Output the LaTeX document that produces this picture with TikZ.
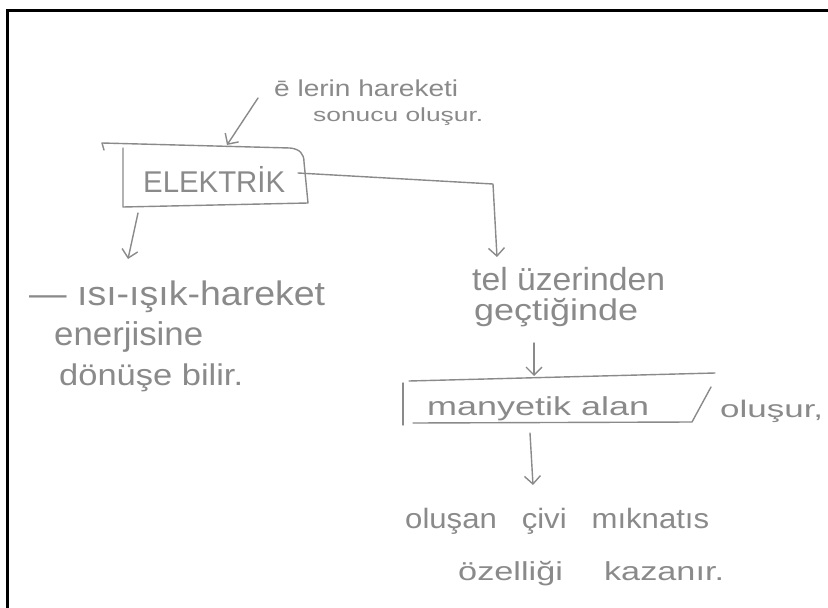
\documentclass[tikz,border=0pt]{standalone}
\usepackage{fontspec}
\usepackage{graphicx}
\setmainfont{Liberation Sans}
\usetikzlibrary{arrows.meta}
\definecolor{pencil}{HTML}{8A8A8A}
% handwritten line: font size, target width, text
\newcommand\hw[3]{{\fontsize{#1}{#1}\selectfont\resizebox{#2}{\height}{#3}}}
\begin{document}
\begin{tikzpicture}[x=1pt,y=-1pt,
  stroke/.style={draw=pencil, line width=1.4pt, line cap=round, line join=round},
  arr/.style={stroke, -{Straight Barb[length=8pt,width=16pt]}},
  note/.style={text=pencil, inner sep=0pt, anchor=base west}]
\fill[white] (0,0) rectangle (828,608);
\useasboundingbox (0,0) rectangle (828,608);
% frame
\draw[line width=3pt] (7.5,608) -- (7.5,10.5) -- (828,10.5);

% top note
\node[note] (top1) at (274,96) {\hw{23}{184pt}{ē lerin hareketi}};
\node[note] (top2) at (313,121) {\hw{19}{170pt}{sonucu oluşur.}};

% ELEKTRİK box
\node[note] (elektrik) at (143,192) {\hw{30}{142pt}{ELEKTRİK}};
\coordinate (bTL) at (123,148);
\coordinate (bTR) at (290,148);
\coordinate (bBR) at (308,203);
\coordinate (bBL) at (123,207);
\draw[stroke] (104,150) -- (102,143) -- (bTR) .. controls (300,149) and (304,154) .. (304,162)
  -- (bBR) -- (bBL) -- (bTL);

% arrow into the box
\coordinate (noteArr) at (258,98);
\coordinate (boxTop) at (227,145);
\draw[arr] (noteArr) -- (boxTop);

% left branch
\coordinate (boxLeft) at (138,213);
\coordinate (leftTip) at (128,259);
\draw[arr] (boxLeft) -- (leftTip);
\node[note] (left1) at (29,305) {\hw{34}{296pt}{— ısı-ışık-hareket}};
\node[note] (left2) at (54,345) {\hw{33}{149pt}{enerjisine}};
\node[note] (left3) at (59,385) {\hw{30}{184pt}{dönüşe bilir.}};

% right branch
\coordinate (boxRight) at (298,173);
\coordinate (corner) at (493,184);
\coordinate (rightTip) at (497,257);
\draw[arr] (boxRight) -- (corner) -- (rightTip);
\node[note] (r1) at (472,290) {\hw{32}{193pt}{tel üzerinden}};
\node[note] (r2) at (474,320) {\hw{30}{164pt}{geçtiğinde}};

% arrow to the magnetic field box
\coordinate (r2Bot) at (534,343);
\coordinate (mTop) at (534,376);
\draw[arr] (r2Bot) -- (mTop);

% manyetik alan box
\node[note] (manyetik) at (427,415) {\hw{26}{222pt}{manyetik alan}};
\draw[stroke] (403,383) -- (403,425);
\draw[stroke] (409,381) -- (715,373);
\draw[stroke] (711,387) -- (692,422) -- (413,423);
\node[note] (olusur) at (720,417) {\hw{24}{103pt}{oluşur,}};

% arrow down to the result
\coordinate (mBot) at (530,433);
\coordinate (resTop) at (533,485);
\draw[arr] (mBot) -- (resTop);
\node[note] (b1) at (405,528) {\hw{28}{304pt}{oluşan\hspace{0.8em}çivi\hspace{0.8em}mıknatıs}};
\node[note] (b2) at (458,580) {\hw{26}{266pt}{özelliği\hspace{1.2em}kazanır.}};
\end{tikzpicture}
\end{document}
